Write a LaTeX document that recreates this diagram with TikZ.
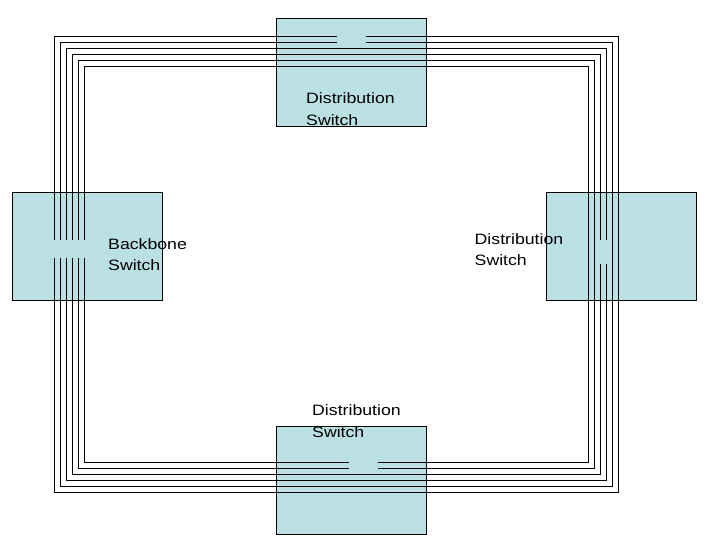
\documentclass[tikz,border=0pt]{standalone}
\usepackage{fontspec}
\setmainfont{Liberation Sans}[FakeStretch=1.18]
\definecolor{swfill}{RGB}{187,224,227}
\begin{document}
\begin{tikzpicture}[x=1pt,y=-1pt,
  switchbox/.style={draw=black,fill=swfill,line width=1pt,minimum width=150pt,minimum height=108pt,inner sep=0pt,outer sep=0pt},
  ring/.style={draw=black,line width=1pt},
  lbl/.style={anchor=base west,align=left,inner sep=0pt,font=\fontsize{15}{21.7}\selectfont}]
\useasboundingbox (0,0) rectangle (720,540);
\node[switchbox] (topsw) at (351.5,72.2) {};
\node[switchbox] (leftsw) at (87.5,246.2) {};
\node[switchbox] (rightsw) at (621,246.2) {};
\node[switchbox] (botsw) at (351.3,480.5) {};
% rings 0,1: gap at top switch
\foreach \d in {0,6}{
  \draw[ring] (54+\d,240) -- (54+\d,37+\d) -- (337,37+\d);
  \draw[ring] (366,37+\d) -- (618-\d,37+\d) -- (618-\d,492-\d) -- (54+\d,492-\d) -- (54+\d,258);
}
% rings 2,3: gap at right switch
\foreach \d in {12,18}{
  \draw[ring] (54+\d,240) -- (54+\d,37+\d) -- (618-\d,37+\d) -- (618-\d,240);
  \draw[ring] (618-\d,264) -- (618-\d,492-\d) -- (54+\d,492-\d) -- (54+\d,258);
}
% rings 4,5: gap at bottom switch
\foreach \d in {24,30}{
  \draw[ring] (54+\d,240) -- (54+\d,37+\d) -- (618-\d,37+\d) -- (618-\d,492-\d) -- (378,492-\d);
  \draw[ring] (349,492-\d) -- (54+\d,492-\d) -- (54+\d,258);
}
\node[lbl] (toplbl) at (306,125.7) {Distribution\\Switch};
\node[lbl] (leftlbl) at (108,270.7) {Backbone\\Switch};
\node[lbl] (rightlbl) at (474.5,265.7) {Distribution\\Switch};
\node[lbl] (botlbl) at (312,437) {Distribution\\Switch};
\end{tikzpicture}
\end{document}
